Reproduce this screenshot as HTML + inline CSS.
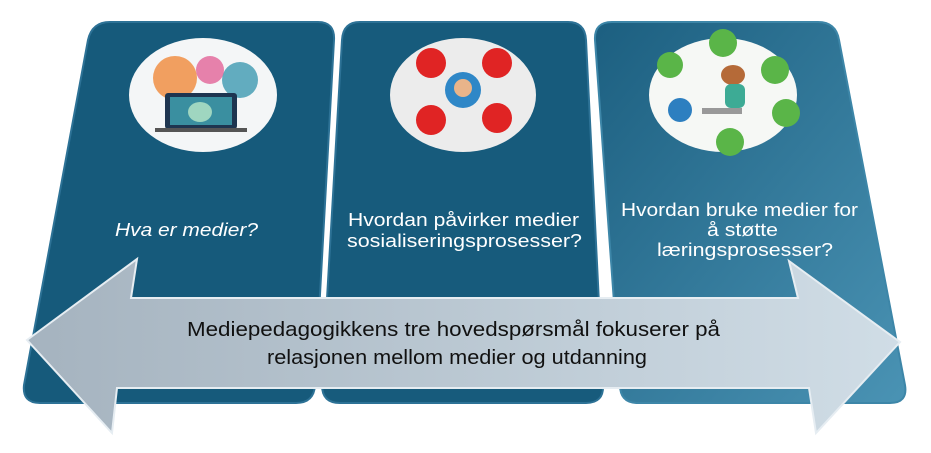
<!DOCTYPE html>
<html><head><meta charset="utf-8"><style>
html,body{margin:0;padding:0;background:#fff;}
svg{display:block;}
text{font-family:"Liberation Sans",sans-serif;}
</style></head><body>
<svg width="931" height="453" viewBox="0 0 931 453" xmlns="http://www.w3.org/2000/svg">
<defs>
<linearGradient id="c3" x1="0" y1="0" x2="1" y2="1">
<stop offset="0" stop-color="#1c5f80"/><stop offset="1" stop-color="#4a93b4"/></linearGradient>
<linearGradient id="ar" x1="0" y1="0" x2="1" y2="0">
<stop offset="0" stop-color="#a5b3bf"/><stop offset="1" stop-color="#d0dde6"/></linearGradient>
</defs>
<path d="M110,22 L318,22 Q335,22 334,40 L315,385 Q314,403 296,403 L40,403 Q22,403 24,385 L88,40 Q92,22 110,22 Z" fill="#165a7b" stroke="#2d7296" stroke-width="2"/>
<path d="M360,22 L568,22 Q585,22 586,40 L603,385 Q604,403 586,403 L340,403 Q322,403 322,385 L342,40 Q343,22 360,22 Z" fill="#175b7c" stroke="#2d7296" stroke-width="2"/>
<path d="M612,22 L818,22 Q836,22 839,40 L905,385 Q908,403 890,403 L638,403 Q620,403 620,385 L595,40 Q594,22 612,22 Z" fill="url(#c3)" stroke="#3d86a8" stroke-width="2"/>
<ellipse cx="203" cy="95" rx="74" ry="57" fill="#f4f6f7"/>
<circle cx="175" cy="78" r="22" fill="#f08a3a" opacity=".8"/>
<circle cx="240" cy="80" r="18" fill="#3d9ab0" opacity=".8"/>
<circle cx="210" cy="70" r="14" fill="#e0508a" opacity=".7"/>
<rect x="165" y="93" width="72" height="36" rx="3" fill="#1e3550"/>
<rect x="170" y="97" width="62" height="28" fill="#3a8fa0"/>
<ellipse cx="200" cy="112" rx="12" ry="10" fill="#9fd6c0"/>
<rect x="155" y="128" width="92" height="4" fill="#555"/>
<ellipse cx="463" cy="95" rx="73" ry="57" fill="#ececec"/>
<circle cx="431" cy="63" r="15" fill="#e02424"/>
<circle cx="497" cy="63" r="15" fill="#e02424"/>
<circle cx="431" cy="120" r="15" fill="#e02424"/>
<circle cx="497" cy="118" r="15" fill="#e02424"/>
<circle cx="463" cy="90" r="18" fill="#2f87c7"/>
<circle cx="463" cy="88" r="9" fill="#e9b48a"/>
<ellipse cx="723" cy="95" rx="74" ry="57" fill="#f6f8f5"/>
<circle cx="723" cy="43" r="14" fill="#5ab548"/>
<circle cx="775" cy="70" r="14" fill="#5ab548"/>
<circle cx="670" cy="65" r="13" fill="#5ab548"/>
<circle cx="786" cy="113" r="14" fill="#5ab548"/>
<circle cx="680" cy="110" r="12" fill="#2d7fc0"/>
<circle cx="730" cy="142" r="14" fill="#5ab548"/>
<ellipse cx="733" cy="75" rx="12" ry="10" fill="#b56a38"/>
<rect x="725" y="84" width="20" height="24" rx="6" fill="#3dab95"/>
<rect x="702" y="108" width="40" height="6" fill="#999"/>
<text x="115" y="236" fill="#fff" font-size="18" font-style="italic" textLength="143" lengthAdjust="spacingAndGlyphs">Hva er medier?</text>
<text x="348" y="226" fill="#fff" font-size="18" textLength="231" lengthAdjust="spacingAndGlyphs">Hvordan påvirker medier</text>
<text x="347" y="247" fill="#fff" font-size="18" textLength="235" lengthAdjust="spacingAndGlyphs">sosialiseringsprosesser?</text>
<text x="621" y="216" fill="#fff" font-size="18" textLength="237" lengthAdjust="spacingAndGlyphs">Hvordan bruke medier for</text>
<text x="707" y="236" fill="#fff" font-size="18" textLength="71" lengthAdjust="spacingAndGlyphs">å støtte</text>
<text x="657" y="256" fill="#fff" font-size="18" textLength="176" lengthAdjust="spacingAndGlyphs">læringsprosesser?</text>
<path d="M27,340 L137,259 L131,298 L798,298 L789,261 L900,342 L816,433 L809,388 L117,388 L112,433 Z" fill="url(#ar)" stroke="#e6edf2" stroke-width="2"/>
<text x="187" y="336" fill="#111" font-size="20" textLength="533" lengthAdjust="spacingAndGlyphs">Mediepedagogikkens tre hovedspørsmål fokuserer på</text>
<text x="267" y="364" fill="#111" font-size="20" textLength="380" lengthAdjust="spacingAndGlyphs">relasjonen mellom medier og utdanning</text>
</svg>
</body></html>
